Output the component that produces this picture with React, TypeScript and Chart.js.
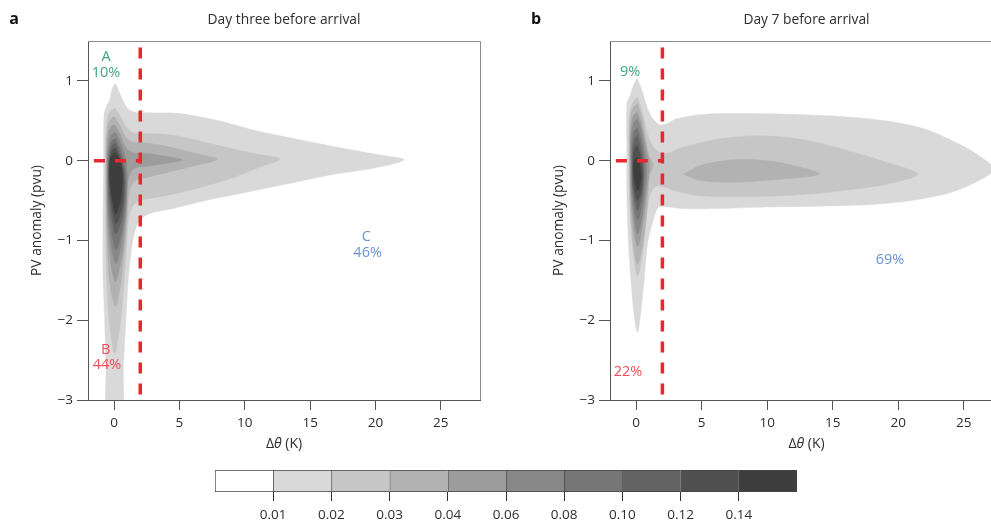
import React, { useEffect, useRef } from "react";
import { Chart, registerables } from "chart.js";

Chart.register(...registerables);

type Pt = [number, number];

const FONT_FAMILY = "'Open Sans', 'DejaVu Sans', sans-serif";
const TEXT_COLOR = "#2e2e2e";
const AXIS_COLOR = "#555555";
const RED = "#e8272f";
const GREEN = "#3fa582";
const PINK = "#ef4f58";
const BLUE = "#6a93d3";

// ---- colour scale ----
const levelLabels = ["0.01", "0.02", "0.03", "0.04", "0.06", "0.08", "0.10", "0.12", "0.14"];
const levelColors = ["#ffffff", "#d9d9d9", "#c6c6c6", "#b2b2b2", "#9c9c9c", "#888888", "#767676", "#636363", "#505050", "#3e3e3e"];
const colorbarSpans = [1, 1, 1, 1, 1, 1, 1, 1, 1, 1];

// ---- axes ----
const xTickValues = [0, 5, 10, 15, 20, 25];
const yTickValues = [-3, -2, -1, 0, 1];
const xLimits = [-2, 28];
const yLimits = [-3, 1.5];

// ---- threshold markers (dashed red) ----
const thresholdVertical: Pt[] = [[2, 1.42], [2, -3]];
const thresholdHorizontal: Pt[] = [[-1.55, 0], [2, 0]];

// ---- panel a: density contours (level 1 = 0.01 ... level 9 = 0.14) ----
const a1: Pt[] = [[0.1, 0.97], [0.5, 0.82], [0.95, 0.67], [1.5, 0.61], [2.5, 0.6], [5, 0.59], [8, 0.5], [11, 0.37], [14, 0.27], [17, 0.17], [20, 0.08], [22.2, 0.01], [20, -0.09], [16.5, -0.18], [13, -0.3], [10, -0.4], [7, -0.5], [4.5, -0.6], [2.8, -0.66], [2.0, -0.74], [1.6, -0.88], [1.35, -1.08], [1.1, -1.45], [0.9, -2.0], [0.7, -2.6], [0.58, -3.15], [-0.52, -3.15], [-0.62, -2.6], [-0.72, -2.0], [-0.85, -1.4], [-0.85, -0.8], [-0.8, 0.0], [-0.78, 0.55], [-0.6, 0.68], [-0.35, 0.75], [-0.15, 0.9]];
const a2: Pt[] = [[0.05, 0.66], [0.5, 0.55], [0.95, 0.42], [1.5, 0.35], [2.5, 0.34], [4.5, 0.32], [6.5, 0.25], [9, 0.15], [11, 0.08], [12.7, 0.02], [11, -0.09], [9, -0.22], [6.5, -0.34], [4.5, -0.42], [2.5, -0.48], [1.7, -0.52], [1.2, -0.66], [1.0, -0.95], [0.8, -1.45], [0.5, -2.0], [0.05, -2.42], [-0.38, -2.0], [-0.58, -1.4], [-0.68, -0.6], [-0.66, 0.2], [-0.55, 0.5], [-0.3, 0.62]];
const a3: Pt[] = [[0.05, 0.55], [0.5, 0.42], [0.95, 0.28], [1.5, 0.23], [2.5, 0.22], [4, 0.18], [6, 0.1], [7.9, 0.02], [6, -0.07], [4, -0.15], [2.5, -0.21], [1.6, -0.25], [1.15, -0.4], [1.0, -0.72], [0.75, -1.2], [0.45, -1.6], [0.1, -1.83], [-0.28, -1.6], [-0.52, -1.1], [-0.6, -0.4], [-0.6, 0.2], [-0.45, 0.45], [-0.2, 0.53]];
const a4: Pt[] = [[0.05, 0.45], [0.5, 0.32], [0.9, 0.16], [1.5, 0.1], [2.5, 0.09], [3.8, 0.06], [5.2, 0.01], [3.8, -0.04], [2.5, -0.07], [1.5, -0.1], [1.05, -0.26], [0.95, -0.6], [0.7, -1.1], [0.35, -1.4], [0.1, -1.52], [-0.2, -1.35], [-0.48, -0.9], [-0.55, -0.3], [-0.54, 0.15], [-0.4, 0.36], [-0.2, 0.43]];
const a5: Pt[] = [[0.1, 0.36], [0.55, 0.2], [0.92, 0.0], [1.0, -0.3], [0.85, -0.7], [0.55, -1.05], [0.15, -1.29], [-0.2, -1.1], [-0.45, -0.7], [-0.52, -0.2], [-0.45, 0.15], [-0.2, 0.32]];
const a6: Pt[] = [[0.1, 0.28], [0.5, 0.13], [0.85, -0.1], [0.9, -0.35], [0.75, -0.7], [0.45, -0.98], [0.15, -1.12], [-0.15, -0.95], [-0.4, -0.6], [-0.47, -0.2], [-0.4, 0.1], [-0.2, 0.24]];
const a7: Pt[] = [[0.1, 0.22], [0.45, 0.08], [0.78, -0.15], [0.8, -0.4], [0.62, -0.7], [0.15, -0.92], [-0.12, -0.78], [-0.37, -0.45], [-0.42, -0.15], [-0.35, 0.08], [-0.15, 0.19]];
const a8: Pt[] = [[0.1, 0.16], [0.45, 0.02], [0.72, -0.2], [0.7, -0.45], [0.5, -0.65], [0.15, -0.79], [-0.1, -0.65], [-0.33, -0.38], [-0.37, -0.12], [-0.28, 0.06], [-0.1, 0.14]];
const a9: Pt[] = [[0.05, 0.1], [0.4, 0.03], [0.62, -0.12], [0.6, -0.35], [0.4, -0.55], [0.12, -0.67], [-0.1, -0.52], [-0.3, -0.3], [-0.35, -0.08], [-0.25, 0.05]];

// ---- panel b: density contours ----
const b1: Pt[] = [[0.08, 1.03], [0.4, 0.9], [0.85, 0.66], [1.3, 0.52], [1.8, 0.45], [2.3, 0.46], [3, 0.52], [5, 0.58], [8, 0.59], [12, 0.58], [15, 0.56], [18, 0.52], [20.5, 0.46], [22.5, 0.37], [24.5, 0.22], [26, 0.08], [27.3, -0.1], [26.5, -0.22], [24, -0.4], [21, -0.5], [18, -0.55], [14, -0.57], [10, -0.58], [6, -0.6], [3.5, -0.6], [2.4, -0.58], [1.7, -0.58], [1.3, -0.75], [0.9, -1.0], [0.6, -1.5], [0.35, -1.9], [0.1, -2.15], [-0.15, -1.95], [-0.35, -1.6], [-0.55, -1.15], [-0.7, -0.5], [-0.72, 0.2], [-0.7, 0.72], [-0.45, 0.82], [-0.2, 0.95]];
const b2: Pt[] = [[0.08, 0.8], [0.45, 0.62], [0.8, 0.38], [1.2, 0.2], [1.8, 0.1], [2.5, 0.1], [3.6, 0.17], [6.2, 0.27], [8.7, 0.31], [11, 0.3], [12.5, 0.27], [14.5, 0.2], [16.3, 0.12], [18.9, -0.01], [21.5, -0.17], [19, -0.3], [16, -0.37], [13.8, -0.41], [11, -0.44], [8.7, -0.45], [4.9, -0.44], [3, -0.38], [2.2, -0.33], [1.5, -0.32], [1.0, -0.45], [0.7, -0.85], [0.45, -1.2], [0.1, -1.45], [-0.2, -1.2], [-0.45, -0.7], [-0.55, -0.1], [-0.55, 0.5], [-0.35, 0.7]];
const b3: Pt[] = [[0.08, 0.72], [0.45, 0.52], [0.75, 0.25], [1.0, 0.05], [1.3, -0.05], [1.0, -0.2], [0.85, -0.55], [0.55, -1.0], [0.1, -1.3], [-0.2, -1.05], [-0.42, -0.6], [-0.5, -0.05], [-0.48, 0.45], [-0.3, 0.64]];
const b3Island: Pt[] = [[3.6, -0.17], [4.9, -0.06], [7.4, 0.01], [10, 0.0], [12.5, -0.08], [14, -0.17], [11.2, -0.23], [7.4, -0.27], [4.9, -0.25]];
const b4: Pt[] = [[0.08, 0.61], [0.4, 0.45], [0.7, 0.2], [1.0, -0.05], [0.8, -0.4], [0.5, -0.8], [0.12, -1.08], [-0.18, -0.85], [-0.4, -0.45], [-0.45, 0.0], [-0.42, 0.35], [-0.25, 0.55]];
const b5: Pt[] = [[0.08, 0.53], [0.38, 0.38], [0.65, 0.12], [0.8, -0.1], [0.7, -0.38], [0.45, -0.7], [0.12, -0.92], [-0.15, -0.72], [-0.35, -0.4], [-0.4, 0.0], [-0.37, 0.3], [-0.2, 0.47]];
const b6: Pt[] = [[0.08, 0.42], [0.35, 0.28], [0.58, 0.05], [0.65, -0.15], [0.55, -0.4], [0.35, -0.62], [0.12, -0.75], [-0.12, -0.6], [-0.3, -0.35], [-0.34, -0.05], [-0.3, 0.22], [-0.15, 0.37]];
const b7: Pt[] = [[0.08, 0.32], [0.32, 0.18], [0.52, -0.02], [0.55, -0.2], [0.45, -0.42], [0.25, -0.55], [0.1, -0.62], [-0.1, -0.5], [-0.27, -0.3], [-0.3, -0.05], [-0.25, 0.15], [-0.12, 0.27]];
const b8: Pt[] = [[0.08, 0.2], [0.3, 0.08], [0.45, -0.08], [0.47, -0.22], [0.38, -0.38], [0.1, -0.5], [-0.08, -0.42], [-0.22, -0.25], [-0.25, -0.05], [-0.18, 0.1], [-0.08, 0.17]];
const b9: Pt[] = [[0.1, 0.04], [0.28, -0.05], [0.38, -0.17], [0.33, -0.28], [0.12, -0.37], [-0.05, -0.3], [-0.17, -0.18], [-0.18, -0.06], [-0.08, 0.02]];

// ---- annotations (group A = green, B = red, C = blue) ----
const annotTextA = ["A", "10%", "B", "44%", "C", "46%"];
const annotXA = [-0.62, -0.62, -0.65, -0.55, 19.3, 19.4];
const annotYA = [1.3, 1.1, -2.37, -2.56, -0.96, -1.16];
const annotGroupA = ["A", "A", "B", "B", "C", "C"];

const annotTextB = ["9%", "22%", "69%"];
const annotXB = [-0.47, -0.63, 19.37];
const annotYB = [1.11, -2.65, -1.24];
const annotGroupB = ["A", "B", "C"];

const groupColors: Record<string, string> = { A: GREEN, B: PINK, C: BLUE };

const fmtTick = (v: number) => (v < 0 ? "\u2212" + Math.abs(v) : String(v));

interface PanelInfo {
  letter: string;
  title: string;
  levels: Pt[][][];
  annotText: string[];
  annotX: number[];
  annotY: number[];
  annotGroup: string[];
}

function makePanelPlugin(info: PanelInfo) {
  return {
    id: "panelDecor" + info.letter,
    afterDatasetsDraw(chart: any) {
      const { ctx, chartArea: ca, scales } = chart;
      const xs = scales.x;
      const ys = scales.y;
      ctx.save();
      // top/right frame
      ctx.strokeStyle = "#8c8c8c";
      ctx.lineWidth = 1;
      ctx.beginPath();
      ctx.moveTo(ca.left, Math.round(ca.top) + 0.5);
      ctx.lineTo(Math.round(ca.right) + 0.5, Math.round(ca.top) + 0.5);
      ctx.lineTo(Math.round(ca.right) + 0.5, ca.bottom);
      ctx.stroke();
      // annotations
      ctx.font = `14.5px ${FONT_FAMILY}`;
      ctx.textAlign = "center";
      ctx.textBaseline = "middle";
      info.annotText.forEach((t, i) => {
        ctx.fillStyle = groupColors[info.annotGroup[i]];
        ctx.fillText(t, xs.getPixelForValue(info.annotX[i]), ys.getPixelForValue(info.annotY[i]));
      });
      ctx.restore();
    },
    afterDraw(chart: any) {
      const { ctx, chartArea: ca } = chart;
      ctx.save();
      // title
      ctx.fillStyle = TEXT_COLOR;
      ctx.font = `13.8px ${FONT_FAMILY}`;
      ctx.textAlign = "center";
      ctx.textBaseline = "middle";
      ctx.fillText(info.title, (ca.left + ca.right) / 2, 20);
      // panel letter
      ctx.fillStyle = "#111111";
      ctx.font = `bold 16px ${FONT_FAMILY}`;
      ctx.fillText(info.letter, 14, 19);
      // x-axis title with italic theta
      const parts: [string, string][] = [
        ["\u0394", `14px ${FONT_FAMILY}`],
        ["\u03b8", `italic 14px ${FONT_FAMILY}`],
        [" (K)", `14px ${FONT_FAMILY}`],
      ];
      let total = 0;
      const widths = parts.map(([t, f]) => {
        ctx.font = f;
        const w = ctx.measureText(t).width;
        total += w;
        return w;
      });
      let x = (ca.left + ca.right) / 2 - total / 2;
      ctx.textAlign = "left";
      ctx.fillStyle = TEXT_COLOR;
      parts.forEach(([t, f], i) => {
        ctx.font = f;
        ctx.fillText(t, x, 444);
        x += widths[i];
      });
      ctx.restore();
    },
  };
}

function makePanelConfig(info: PanelInfo): any {
  const datasets: any[] = [];
  info.levels.forEach((polys, k) => {
    polys.forEach((poly) => {
      const color = levelColors[k + 1];
      datasets.push({
        data: poly.concat([poly[0]]).map(([x, y]) => ({ x, y })),
        showLine: true,
        fill: "shape",
        backgroundColor: color,
        borderColor: color,
        borderWidth: 0.5,
        pointRadius: 0,
        pointHoverRadius: 0,
        pointHitRadius: 0,
        tension: 0.3,
        order: 20 - k,
      });
    });
  });
  [thresholdVertical, thresholdHorizontal].forEach((line) => {
    datasets.push({
      data: line.map(([x, y]) => ({ x, y })),
      showLine: true,
      fill: false,
      borderColor: RED,
      borderWidth: 3.5,
      borderDash: [11, 10],
      borderCapStyle: "butt",
      pointRadius: 0,
      pointHoverRadius: 0,
      tension: 0,
      order: 0,
    });
  });

  const tickFont = { family: FONT_FAMILY, size: 13.5 };
  return {
    type: "scatter",
    data: { datasets },
    options: {
      responsive: false,
      animation: false,
      events: [],
      layout: { padding: { left: 0, right: 10, top: 41, bottom: 0 } },
      plugins: { legend: { display: false }, tooltip: { enabled: false }, title: { display: false } },
      scales: {
        x: {
          type: "linear",
          min: xLimits[0],
          max: xLimits[1],
          afterBuildTicks: (s: any) => {
            s.ticks = xTickValues.map((v) => ({ value: v }));
          },
          afterFit: (s: any) => {
            s.height = 60;
          },
          grid: { drawOnChartArea: false, drawTicks: true, tickLength: 10, color: AXIS_COLOR, lineWidth: 1 },
          border: { display: true, color: AXIS_COLOR, width: 1 },
          ticks: { font: tickFont, color: TEXT_COLOR, padding: 5, maxRotation: 0, callback: (v: number) => fmtTick(v) },
        },
        y: {
          type: "linear",
          min: yLimits[0],
          max: yLimits[1],
          afterBuildTicks: (s: any) => {
            s.ticks = yTickValues.map((v) => ({ value: v }));
          },
          afterFit: (s: any) => {
            s.width = 88;
          },
          grid: { drawOnChartArea: false, drawTicks: true, tickLength: 11, color: AXIS_COLOR, lineWidth: 1 },
          border: { display: true, color: AXIS_COLOR, width: 1 },
          ticks: { font: tickFont, color: TEXT_COLOR, padding: 4, callback: (v: number) => fmtTick(v) },
          title: {
            display: true,
            text: "PV anomaly (pvu)",
            color: TEXT_COLOR,
            font: { family: FONT_FAMILY, size: 13.8 },
            padding: { top: 28.5, bottom: 0 },
          },
        },
      },
    },
    plugins: [makePanelPlugin(info)],
  };
}

function makeColorbarConfig(): any {
  const last = levelColors.length - 1;
  return {
    type: "bar",
    data: {
      labels: [""],
      datasets: levelColors.map((c, i) => ({
        data: [colorbarSpans[i]],
        backgroundColor: c,
        borderColor: "#444444",
        borderWidth: { top: 1, bottom: 1, left: 1, right: i === last ? 1 : 0 },
        borderSkipped: false,
        barPercentage: 1,
        categoryPercentage: 1,
      })),
    },
    options: {
      indexAxis: "y",
      responsive: false,
      animation: false,
      events: [],
      layout: { padding: { left: 15, right: 23, top: 10, bottom: 0 } },
      plugins: { legend: { display: false }, tooltip: { enabled: false } },
      scales: {
        x: {
          type: "linear",
          stacked: true,
          min: 0,
          max: colorbarSpans.length,
          afterBuildTicks: (s: any) => {
            s.ticks = levelLabels.map((_, i) => ({ value: i + 1 }));
          },
          afterFit: (s: any) => {
            s.height = 31;
          },
          grid: { drawOnChartArea: false, drawTicks: true, tickLength: 9, color: "#333333" },
          border: { display: false },
          ticks: {
            font: { family: FONT_FAMILY, size: 13.5 },
            color: TEXT_COLOR,
            padding: 6,
            maxRotation: 0,
            callback: (v: number) => levelLabels[v - 1],
          },
        },
        y: { stacked: true, display: false },
      },
    },
  };
}

function ChartCanvas(props: { make: () => any; left: number; top: number; width: number; height: number }) {
  const ref = useRef<HTMLCanvasElement>(null);
  useEffect(() => {
    const chart = new Chart(ref.current as HTMLCanvasElement, props.make());
    return () => chart.destroy();
  }, []);
  return (
    <canvas
      ref={ref}
      width={props.width}
      height={props.height}
      style={{ position: "absolute", left: props.left, top: props.top, width: props.width, height: props.height }}
    />
  );
}

const panelA: PanelInfo = {
  letter: "a",
  title: "Day three before arrival",
  levels: [[a1], [a2], [a3], [a4], [a5], [a6], [a7], [a8], [a9]],
  annotText: annotTextA,
  annotX: annotXA,
  annotY: annotYA,
  annotGroup: annotGroupA,
};

const panelB: PanelInfo = {
  letter: "b",
  title: "Day 7 before arrival",
  levels: [[b1], [b2], [b3, b3Island], [b4], [b5], [b6], [b7], [b8], [b9]],
  annotText: annotTextB,
  annotX: annotXB,
  annotY: annotYB,
  annotGroup: annotGroupB,
};

export default function App() {
  return (
    <div
      style={{
        position: "fixed",
        left: 0,
        top: 0,
        width: 991,
        height: 523,
        overflow: "hidden",
        background: "#ffffff",
      }}
    >
      <ChartCanvas make={() => makePanelConfig(panelA)} left={0} top={0} width={490} height={460} />
      <ChartCanvas make={() => makePanelConfig(panelB)} left={522} top={0} width={491} height={460} />
      <ChartCanvas make={makeColorbarConfig} left={200} top={460} width={620} height={63} />
    </div>
  );
}
